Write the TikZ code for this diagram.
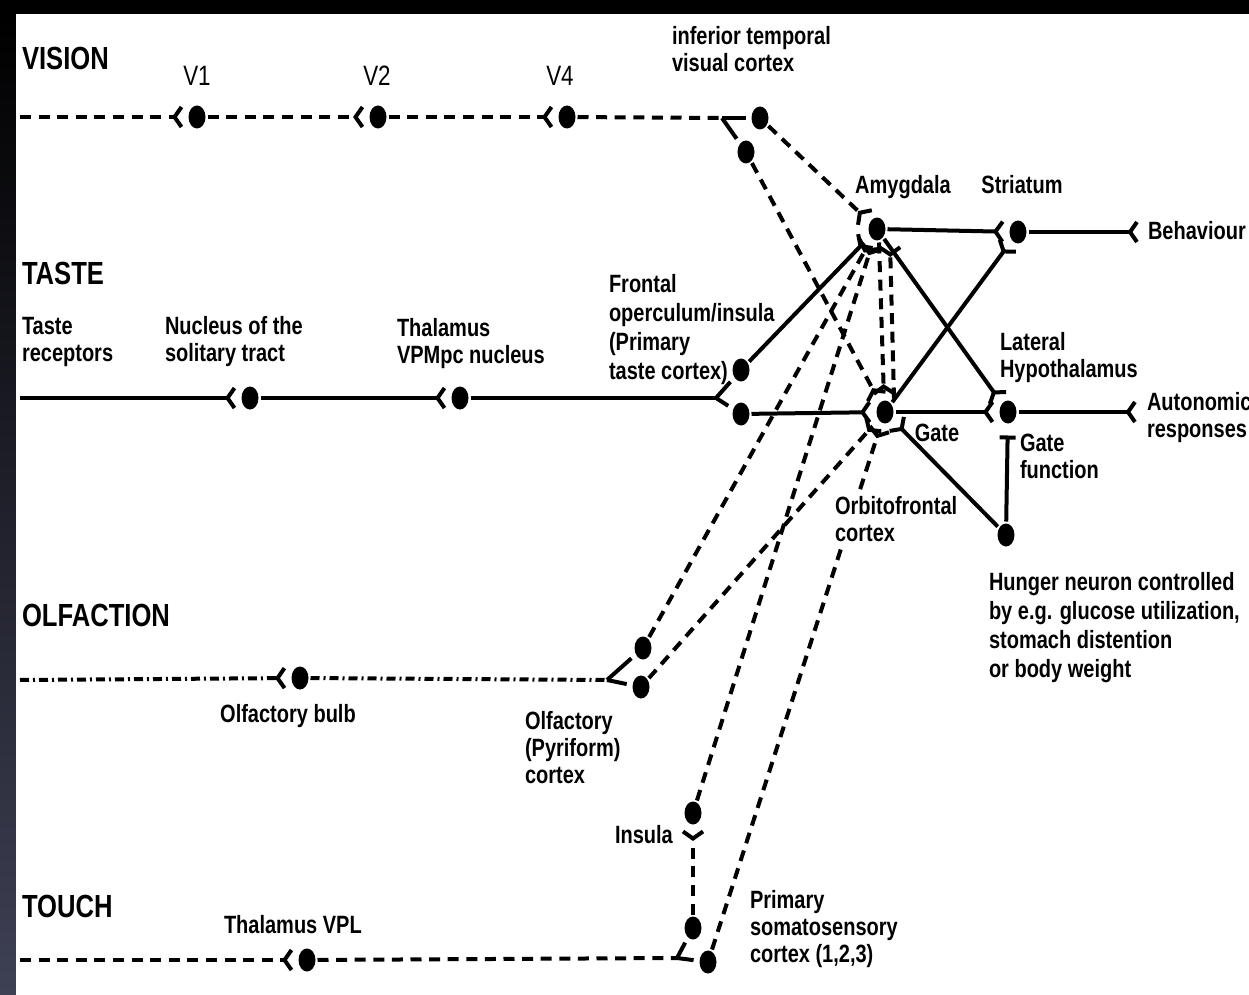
\documentclass[tikz,border=0pt]{standalone}
\usepackage{fontspec}
\setmainfont[FakeStretch=0.8]{Liberation Sans}
\usetikzlibrary{arrows.meta,shapes.geometric,positioning}
\definecolor{slate}{RGB}{62,64,84}

\begin{document}
\begin{tikzpicture}[x=0.5pt,y=-0.5pt,line width=2pt]
	\tikzstyle{neur}=[draw=none, fill=black, ellipse, inner sep=0pt, minimum width=8.5pt, minimum height=11.5pt]
	\tikzstyle{head}=[font=\bfseries\fontsize{16}{18}\selectfont, anchor=north west, inner sep=0pt]
	\tikzstyle{lbl}=[font=\bfseries\fontsize{12.5}{13.5}\selectfont, align=left, anchor=north west, inner sep=0pt]
	\tikzstyle{lbl_w}=[lbl, font=\bfseries\fontsize{12.5}{14.5}\selectfont]
	\tikzstyle{lbl_s}=[font=\bfseries\fontsize{12.5}{13.5}\selectfont, anchor=base, inner sep=0pt]
	\tikzstyle{area}=[font=\fontsize{14}{16}\selectfont, anchor=base, inner sep=0pt]
	\tikzstyle{syn}=[-{Straight Barb[reversed,length=3.5pt,width=10pt]}, shorten >=1.5pt]
	\tikzstyle{fork}=[shorten >=2pt]
	\tikzstyle{dsh}=[dash pattern=on 5.5pt off 3.8pt]
	\tikzstyle{dshdot}=[dash pattern=on 4.5pt off 2pt on 1pt off 2pt]

	\useasboundingbox (0,0) rectangle (1249,995);
	\fill[black] (0,0) rectangle (1249,995);
	\shade[top color=black, bottom color=slate] (0,14) rectangle (16,995);
	\fill[white] (16,14) rectangle (1249,995);

	% headings
	\node[head] (hvis) at (20,45) {VISION};
	\node[head] (htas) at (20,260) {TASTE};
	\node[head] (holf) at (20,602) {OLFACTION};
	\node[head] (htou) at (20,893) {TOUCH};

	% neurons
	\node[neur] (v1) at (197,117) {};
	\node[neur] (v2) at (378,117) {};
	\node[neur] (v4) at (567,117) {};
	\node[neur] (ita) at (760,118) {};
	\node[neur] (itb) at (746,152) {};
	\node[neur] (nts) at (250,398) {};
	\node[neur] (thal) at (460,398) {};
	\node[neur] (foa) at (741,370) {};
	\node[neur] (fob) at (741,414) {};
	\node[neur] (amyg) at (877,229) {};
	\node[neur] (ofc) at (885,412) {};
	\node[neur] (str) at (1018,232) {};
	\node[neur] (lh) at (1008,412) {};
	\node[neur] (hun) at (1006,535) {};
	\node[neur] (ob) at (300,678) {};
	\node[neur] (pyra) at (643,648) {};
	\node[neur] (pyrb) at (641,687) {};
	\node[neur] (ins) at (693,813) {};
	\node[neur] (vpl) at (307,960) {};
	\node[neur] (ssa) at (693,928) {};
	\node[neur] (ssb) at (708,962) {};

	% labels
	\node[area] at (197,86) {V1};
	\node[area] at (377,86) {V2};
	\node[area] at (560,86) {V4};
	\node[lbl] (lit) at (670,24) {inferior temporal\\visual cortex};
	\node[lbl_s] (lamy) at (903,193) {Amygdala};
	\node[lbl_s] (lstr) at (1022,193) {Striatum};
	\node[lbl_s, anchor=base west] (lbeh) at (1146,240) {Behaviour};
	\node[lbl] (ltr) at (20,315) {Taste\\receptors};
	\node[lbl] (lnts) at (163,314) {Nucleus of the\\solitary tract};
	\node[lbl] (lthal) at (395,316) {Thalamus\\VPMpc nucleus};
	\node[lbl_w] (lfo) at (607,272) {Frontal\\operculum/insula\\(Primary\\taste cortex)};
	\node[lbl] (llh) at (998,330) {Lateral\\Hypothalamus};
	\node[lbl] (laut) at (1145,390) {Autonomic\\responses};
	\node[lbl_s] (lgate) at (937,441) {Gate};
	\node[lbl] (lgf) at (1018,432) {Gate\\function};
	\node[lbl_w] (lhun) at (987,570) {Hunger neuron controlled\\by e.g. glucose utilization,\\stomach distention\\or body weight};
	\node[lbl_s] (lob) at (288,722) {Olfactory bulb};
	\node[lbl] (lpyr) at (523,709) {Olfactory\\(Pyriform)\\cortex};
	\node[lbl_s, anchor=base west] (lins) at (613,843) {Insula};
	\node[lbl_s, anchor=base west] (lvpl) at (222,933) {Thalamus VPL};
	\node[lbl] (lss) at (748,888) {Primary\\somatosensory\\cortex (1,2,3)};

	% free ends
	\coordinate (vs) at (20,117);
	\coordinate (vf) at (722,118);
	\coordinate (ts) at (20,398);
	\coordinate (tf) at (716,398);
	\coordinate (os) at (20,680);
	\coordinate (of) at (607,680);
	\coordinate (ss) at (20,960);
	\coordinate (sf) at (677,958);
	\coordinate (beh) at (1142,232);
	\coordinate (aut) at (1140,412);

	% vision
	\draw[syn,dsh] (vs) -- (v1);
	\draw[syn,dsh] (v1) -- (v2);
	\draw[syn,dsh] (v2) -- (v4);
	\draw[dsh] (v4) -- (vf);
	\draw[fork] (vf) -- (ita);
	\draw[fork] (vf) -- (itb);
	\draw[syn,dsh] (ita) -- (amyg);
	\draw[syn,dsh] (itb) -- (ofc);

	% taste
	\draw[syn] (ts) -- (nts);
	\draw[syn] (nts) -- (thal);
	\draw (thal) -- (tf);
	\draw[fork] (tf) -- (foa);
	\draw[fork] (tf) -- (fob);
	\draw[syn] (foa) -- (amyg);
	\draw[syn] (fob) -- (ofc);

	% olfaction
	\draw[syn,dshdot] (os) -- (ob);
	\draw[dshdot] (ob) -- (of);
	\draw[fork] (of) -- (pyra);
	\draw[fork] (of) -- (pyrb);
	\draw[syn,dsh] (pyra) -- (amyg);
	\draw[syn,dsh] (pyrb) -- (ofc);

	% touch
	\draw[syn,dsh] (ss) -- (vpl);
	\draw[dsh] (vpl) -- (sf);
	\draw[fork] (sf) -- (ssa);
	\draw[fork] (sf) -- (ssb);
	\draw[syn,dsh] (ssa) -- (ins);
	\draw[syn,dsh] (ins) -- (amyg);
	\draw[syn,dsh] (ssb) -- (ofc);

	% amygdala and orbitofrontal outputs
	\draw[syn,dsh] ([xshift=1pt]amyg.south) -- ([xshift=-0.5pt]ofc.north);
	\draw[syn,dsh] ([xshift=4.5pt]ofc.north) -- ([xshift=6.5pt]amyg.south);
	\draw[syn] (amyg) -- (str);
	\draw[syn] (str) -- (beh);
	\draw[syn] (amyg) -- (lh);
	\draw[syn] (ofc) -- (str);
	\draw[syn] (ofc) -- (lh);
	\draw[syn] (lh) -- (aut);
	\draw[syn] (hun) -- (ofc);
	\draw[-{Bar[width=8pt]}, shorten >=5pt] (hun) -- (lh);

	\node[lbl, fill=white, inner sep=1pt] (lofc) at (831,492) {Orbitofrontal\\cortex};
\end{tikzpicture}
\end{document}
